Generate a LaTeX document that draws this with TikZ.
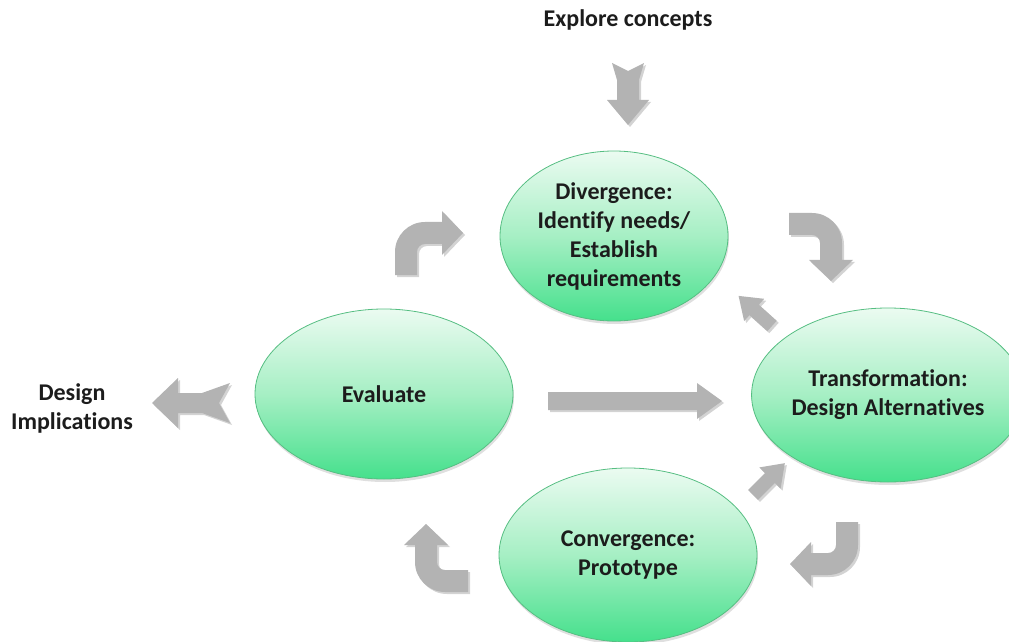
\documentclass[tikz,border=0pt]{standalone}
\usepackage{fontspec}
\setmainfont{Carlito}[Ligatures=NoCommon]
\usetikzlibrary{shapes.geometric,shadows}

\definecolor{mintTop}{HTML}{EBFBF1}
\definecolor{mintMid}{HTML}{A6EFC4}
\definecolor{mintBot}{HTML}{45E08C}
\definecolor{mintLine}{HTML}{56BE82}
\definecolor{arrowGray}{HTML}{B3B3B3}
\definecolor{labelInk}{HTML}{1C1C1C}

\begin{document}
\begin{tikzpicture}[
    x=1pt, y=1pt,
    every node/.style={
        font=\fontsize{24}{29}\selectfont\bfseries,
        text=labelInk,
    },
    stage/.style={
        ellipse, draw=mintLine, line width=0.8pt, inner sep=0pt,
        align=center,
        top color=mintTop, bottom color=mintBot, middle color=mintMid,
        drop shadow={opacity=0.25, shadow xshift=1pt, shadow yshift=-3pt},
    },
    blockfill/.style={
        fill=arrowGray,
        drop shadow={opacity=0.35, shadow xshift=2pt, shadow yshift=-2pt},
    },
    bent arrow/.pic={
        \fill[blockfill] (-30,-23) -- (-30,0)
            arc[start angle=180, end angle=90, radius=30]
            -- (17,30) -- (17,41) -- (38,19) -- (17,-3) -- (17,8) -- (0,8)
            arc[start angle=90, end angle=180, radius=8]
            -- (-8,-23) -- cycle;
    },
    short arrow/.pic={
        \fill[blockfill] (0,-7) -- (24,-7) -- (24,-15) -- (45,0)
            -- (24,15) -- (24,7) -- (0,7) -- cycle;
    },
    notched arrow/.pic={
        \fill[blockfill] (0,20) -- (28,10) -- (52,10) -- (52,25) -- (78,0)
            -- (52,-25) -- (52,-10) -- (28,-10) -- (0,-20) -- (11,0) -- cycle;
    },
    slim notched arrow/.pic={
        \fill[blockfill] (0,16) -- (17,11) -- (37,11) -- (37,21) -- (62,0)
            -- (37,-21) -- (37,-11) -- (17,-11) -- (0,-16) -- (8,0) -- cycle;
    },
    ]
    \useasboundingbox (0,0) rectangle (1009,641);

    % the four stages
    \node [stage, minimum width=228pt, minimum height=170pt] (diverge) at (614,405)
        {Divergence:\\Identify needs/\\Establish\\requirements};
    \node [stage, minimum width=258pt, minimum height=170pt] (evaluate) at (384,247)
        {Evaluate};
    \node [stage, minimum width=256pt, minimum height=174pt] (transform) at (888,246)
        {Transformation:\\Design Alternatives};
    \node [stage, minimum width=258pt, minimum height=174pt] (converge) at (628,86)
        {Convergence:\\Prototype};

    \node (explore) at (628,621) {Explore concepts};
    \node [align=center] (implications) at (72,233) {Design\\Implications};

    % turning arrows round the loop
    \pic at (425,389) {bent arrow};
    \pic [rotate=-90] at (812,398) {bent arrow};
    \pic [rotate=180] at (828,96) {bent arrow};
    \pic [rotate=90] at (445,79) {bent arrow};

    \pic [rotate=138] at (772,315) {short arrow};
    \pic [rotate=45] at (753,146) {short arrow};

    \pic [rotate=-90] at (628,578) {slim notched arrow};
    \pic [rotate=180] at (230,238) {notched arrow};

    \fill[blockfill] (548,231) -- (697,231) -- (697,222) -- (722,240)
        -- (697,258) -- (697,249) -- (548,249) -- cycle;
\end{tikzpicture}
\end{document}
